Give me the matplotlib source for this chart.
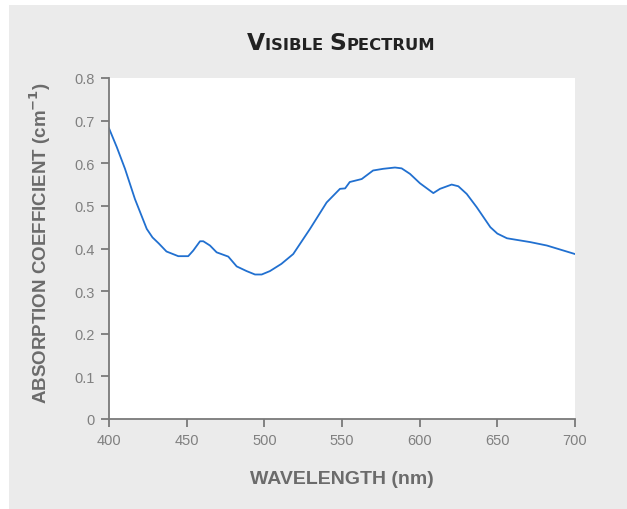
#import
import matplotlib.pyplot as plt
from matplotlib.patches import Rectangle

#data
wavelength = [400, 405, 410.3, 416.7, 424.3, 428, 432, 437, 444.6, 451, 454.2, 458.6, 460.7, 465, 469.3,
              476.8, 482.2, 488.6, 494, 498.3, 503.6, 511, 518.6, 529.4, 540.1, 548.7, 552,
              555, 562.7, 570, 576.6, 584.1, 588.4, 593.8, 600.2, 608.8, 613.1, 620.6, 624.9,
              630.3, 636.7, 645.5, 650, 656.2, 671.2, 681.9, 700]
absorption = [0.682, 0.638, 0.587, 0.516, 0.446, 0.426, 0.412, 0.393, 0.382, 0.382, 0.395, 0.417, 0.417, 0.407, 0.391,
              0.381, 0.358, 0.347, 0.339, 0.339, 0.347, 0.364, 0.387, 0.446, 0.508, 0.540, 0.541,
              0.556, 0.563, 0.583, 0.587, 0.590, 0.588, 0.575, 0.553, 0.530, 0.540, 0.550, 0.546,
              0.528, 0.497, 0.450, 0.435, 0.424, 0.415, 0.407, 0.387]
xticks = [400, 450, 500, 550, 600, 650, 700]
yticks = [0, 0.1, 0.2, 0.3, 0.4, 0.5, 0.6, 0.7, 0.8]
ytick_labels = ["0", "0.1", "0.2", "0.3", "0.4", "0.5", "0.6", "0.7", "0.8"]

plt.rcParams['font.family'] = ['Liberation Sans', 'DejaVu Sans']
axis_grey = "#7a7a7a"
label_grey = "#6b6b6b"

fig = plt.figure(figsize=(6.27, 5.10), dpi=100, facecolor="white")
#grey panel behind everything
fig.patches.append(Rectangle((9 / 627, 0), 1 - 9 / 627, 504 / 510, transform=fig.transFigure,
                             facecolor="#ebebeb", edgecolor="none", zorder=-10))

ax = fig.add_axes([109 / 627, 90 / 510, 466 / 627, 341 / 510])
ax.set_facecolor("white")
ax.set_zorder(1)

#plotting
ax.plot(wavelength, absorption, color="#2170d0", linewidth=1.3)

ax.set_xlim(400, 700)
ax.set_ylim(0, 0.8)
ax.set_xticks(xticks)
ax.set_yticks(yticks)
ax.set_yticklabels(ytick_labels)

for side in ["top", "right"]:
    ax.spines[side].set_visible(False)
for side in ["left", "bottom"]:
    ax.spines[side].set_color(axis_grey)
    ax.spines[side].set_linewidth(1.3)
ax.tick_params(direction="out", length=6, width=1.3, color=axis_grey,
               labelcolor="#808080", labelsize=10.5, pad=4)

#Adding Labels
ax.set_xlabel("WAVELENGTH (nm)", fontsize=14, fontweight="bold", color=label_grey, labelpad=17)
ax.set_ylabel("ABSORPTION COEFFICIENT (cm$^{\\mathbf{-1}}$)", fontsize=13.5, fontweight="bold",
              color=label_grey)
ax.yaxis.set_label_coords(-0.12, 0.52)

#adding Title (small caps built from two sizes)
pieces = [("V", 16.8), ("ISIBLE ", 11.8), ("S", 16.8), ("PECTRUM", 11.8)]
fig.canvas.draw()
renderer = fig.canvas.get_renderer()
texts = []
for s, size in pieces:
    t = fig.text(0, 460 / 510, s, fontsize=size, fontweight="bold", color="#222222",
                 family="DejaVu Sans", va="baseline", ha="left")
    texts.append(t)
widths = [t.get_window_extent(renderer).width for t in texts]
start = 341 - sum(widths) / 2
for t, w in zip(texts, widths):
    t.set_x(start / 627)
    start += w

#printing graph
fig.savefig("out.png", dpi=100, facecolor="white")
